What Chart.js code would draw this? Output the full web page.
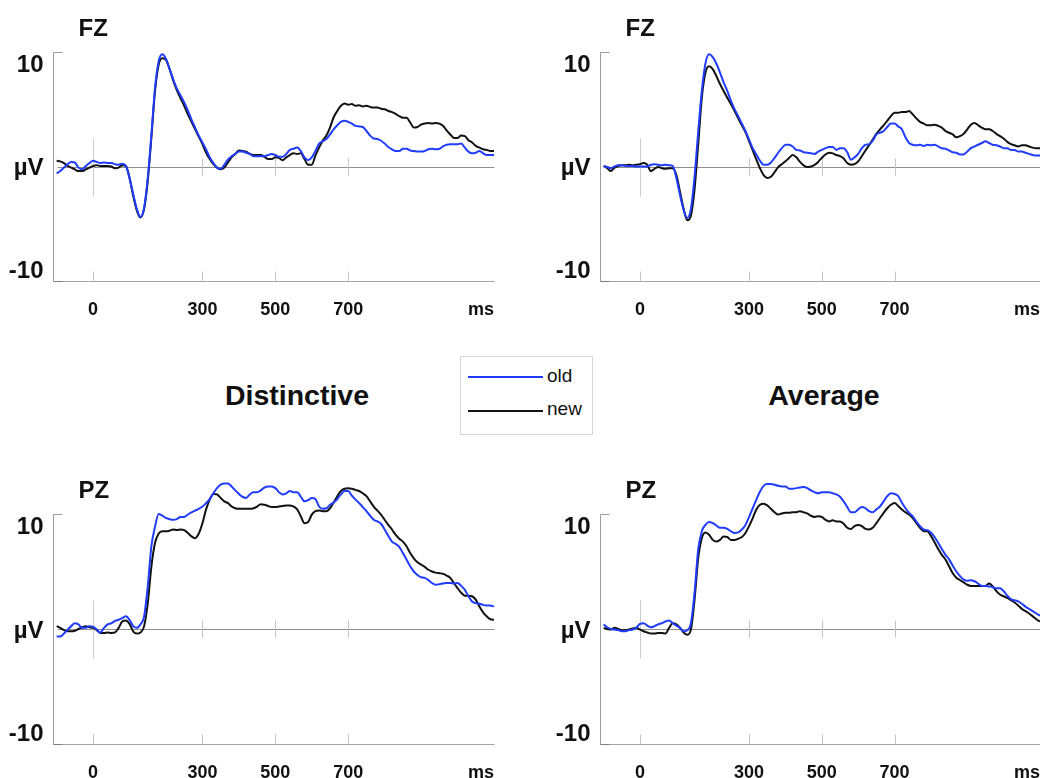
<!DOCTYPE html>
<html>
<head>
<meta charset="utf-8">
<title>ERP old/new</title>
<script src="https://cdn.jsdelivr.net/npm/chart.js@4.4.1/dist/chart.umd.min.js"></script>
<style>
  body { margin: 0; background: #fff; font-family: "Liberation Sans", Arial, sans-serif; color: #111; }
  #page { position: relative; width: 1040px; height: 778px; overflow: hidden; }
  canvas { position: absolute; }
  .title { position: absolute; width: 300px; text-align: center; font-weight: bold; font-size: 28.5px; line-height: 28.5px; }
  #legend { position: absolute; left: 460px; top: 356px; width: 133px; height: 79px; box-sizing: border-box; border: 1px solid #d6d6d6; }
  .key { position: absolute; left: 7px; width: 75px; height: 2px; }
  .keytext { position: absolute; left: 86px; font-size: 19px; line-height: 19px; }
</style>
</head>
<body>
<div id="page">
  <canvas id="distFz" width="520" height="330" style="left:0;top:0"></canvas>
  <canvas id="avgFz" width="520" height="330" style="left:520px;top:0"></canvas>
  <canvas id="distPz" width="520" height="318" style="left:0;top:460px"></canvas>
  <canvas id="avgPz" width="520" height="318" style="left:520px;top:460px"></canvas>

  <div class="title" style="left:147px;top:381px">Distinctive</div>
  <div class="title" style="left:674px;top:381px">Average</div>

  <div id="legend">
    <div class="key" style="top:19px;background:#1f3cff"></div>
    <div class="keytext" style="top:9px">old</div>
    <div class="key" style="top:53px;background:#111"></div>
    <div class="keytext" style="top:42px">new</div>
  </div>
</div>

<script>
// sample times (ms), one value every 10 ms
const times = [
  -100, -90, -80, -70, -60, -50, -40, -30, -20, -10,
  0, 10, 20, 30, 40, 50, 60, 70, 80, 90,
  100, 110, 120, 130, 140, 150, 160, 170, 180, 190,
  200, 210, 220, 230, 240, 250, 260, 270, 280, 290,
  300, 310, 320, 330, 340, 350, 360, 370, 380, 390,
  400, 410, 420, 430, 440, 450, 460, 470, 480, 490,
  500, 510, 520, 530, 540, 550, 560, 570, 580, 590,
  600, 610, 620, 630, 640, 650, 660, 670, 680, 690,
  700, 710, 720, 730, 740, 750, 760, 770, 780, 790,
  800, 810, 820, 830, 840, 850, 860, 870, 880, 890,
  900, 910, 920, 930, 940, 950, 960, 970, 980, 990,
  1000, 1010, 1020, 1030, 1040, 1050, 1060, 1070, 1080, 1090,
  1100
];

// amplitudes in µV
const distinctiveFzOld = [
  -0.6, -0.4, -0.1, 0.2, 0.4, 0.35, -0.1, -0.25, 0.05, 0.3,
  0.5, 0.4, 0.3, 0.35, 0.3, 0.3, 0.2, 0.15, 0.25, 0.05,
  -1.0, -2.4, -3.7, -4.4, -3.6, -1.0, 2.8, 6.9, 9.2, 9.8,
  9.4, 8.5, 7.6, 6.8, 6.2, 5.6, 4.9, 4.1, 3.4, 2.7,
  2.1, 1.5, 0.8, 0.3, -0.1, -0.2, 0.15, 0.6, 0.9, 1.1,
  1.3, 1.3, 1.2, 1.1, 0.9, 0.9, 0.9, 0.9, 1.0, 1.1,
  1.0, 0.85, 0.85, 1.1, 1.45, 1.55, 1.65, 1.35, 0.8, 0.55,
  0.8, 1.35, 2.0, 2.2, 2.4, 2.8, 3.25, 3.6, 3.9, 4.0,
  3.9, 3.75, 3.55, 3.5, 3.45, 3.1, 2.7, 2.45, 2.4, 2.25,
  2.0, 1.7, 1.5, 1.35, 1.35, 1.55, 1.55, 1.4, 1.35, 1.3,
  1.3, 1.35, 1.5, 1.55, 1.5, 1.55, 1.75, 1.9, 1.95, 1.95,
  1.95, 2.0, 1.65, 1.3, 1.15, 1.2, 1.35, 1.15, 1.0, 1.0,
  1.0
];
const distinctiveFzNew = [
  0.5, 0.45, 0.3, 0.05, -0.1, -0.25, -0.4, -0.4, -0.25, -0.1,
  0.05, 0.1, 0.05, 0.05, 0.05, 0, -0.15, -0.1, 0.1, 0.05,
  -1.0, -2.55, -3.85, -4.45, -3.7, -1.25, 2.55, 6.6, 8.9, 9.45,
  9.3, 8.5, 7.5, 6.65, 5.95, 5.3, 4.55, 3.9, 3.25, 2.6,
  1.95, 1.2, 0.65, 0.2, -0.1, -0.25, -0.1, 0.35, 0.8, 1.1,
  1.4, 1.35, 1.3, 1.1, 1.0, 1.0, 1.0, 0.85, 0.65, 0.65,
  0.8, 0.75, 0.55, 0.8, 1.0, 1.15, 1.1, 1.15, 0.65, 0.15,
  0.15, 0.95, 1.65, 2.25, 2.7, 3.4, 4.3, 4.85, 5.3, 5.5,
  5.4, 5.45, 5.3, 5.35, 5.25, 5.3, 5.2, 5.15, 5.15, 5.05,
  5.0, 4.85, 4.75, 4.6, 4.4, 4.25, 4.25, 3.85, 3.4, 3.45,
  3.65, 3.75, 3.8, 3.75, 3.8, 3.75, 3.55, 3.15, 2.8, 2.5,
  2.5, 2.7, 2.65, 2.3, 2.1, 1.8, 1.65, 1.5, 1.45, 1.35,
  1.35
];
const averageFzOld = [
  0.05, -0.05, -0.15, 0, 0.1, 0.1, 0.05, 0.05, 0.05, 0,
  0, 0, 0, 0.15, 0.2, 0.15, 0.1, 0.15, 0.1, 0.05,
  -1.0, -2.5, -3.8, -4.5, -3.7, -0.9, 3.0, 6.6, 9.0, 9.8,
  9.55, 9.0, 8.2, 7.35, 6.6, 5.75, 5.0, 4.4, 3.75, 3.1,
  2.35, 1.6, 1.05, 0.5, 0.15, 0.15, 0.35, 0.75, 1.2, 1.6,
  1.9, 1.9, 1.75, 1.45, 1.4, 1.25, 1.2, 1.15, 1.1, 1.3,
  1.45, 1.6, 1.7, 1.7, 1.45, 1.6, 1.6, 1.25, 0.6, 0.8,
  1.1, 1.6, 1.9, 1.95, 2.25, 2.8, 2.95, 3.1, 3.45, 3.75,
  3.75, 3.5, 3.25, 2.55, 2.05, 1.9, 1.85, 1.9, 1.8, 1.9,
  1.85, 1.9, 1.75, 1.6, 1.55, 1.4, 1.25, 1.2, 1.05, 1.05,
  1.3, 1.6, 1.75, 1.9, 2.05, 2.2, 2.05, 1.9, 1.85, 1.75,
  1.6, 1.6, 1.45, 1.45, 1.3, 1.3, 1.2, 1.1, 1.0, 0.95,
  0.95
];
const averageFzNew = [
  0.05, -0.15, -0.4, -0.1, 0.05, 0.1, 0.1, 0.15, 0.1, 0.15,
  0.2, 0.3, 0.15, -0.4, -0.2, -0.05, -0.15, -0.2, -0.15, -0.15,
  -0.75, -2.2, -3.7, -4.7, -4.3, -2.0, 1.9, 6.0, 8.2, 8.75,
  8.5, 7.9, 7.2, 6.6, 6.0, 5.45, 4.85, 4.2, 3.6, 3.0,
  2.2, 1.4, 0.6, -0.15, -0.75, -1.0, -0.9, -0.5, -0.05, 0.2,
  0.45, 0.75, 1.0, 0.8, 0.4, 0.1, -0.05, 0, 0.15, 0.4,
  0.75, 1.05, 1.2, 1.15, 1.0, 0.9, 0.7, 0.3, 0.15, 0.2,
  0.45, 0.9, 1.4, 1.85, 2.35, 2.85, 3.25, 3.6, 4.0, 4.4,
  4.7, 4.7, 4.75, 4.75, 4.85, 4.55, 4.2, 3.9, 3.75, 3.6,
  3.6, 3.65, 3.55, 3.4, 3.1, 2.95, 2.8, 2.55, 2.65, 2.85,
  3.25, 3.65, 3.8, 3.6, 3.4, 3.25, 3.25, 3.1, 2.85, 2.65,
  2.45, 2.15, 1.95, 1.85, 1.75, 1.85, 1.85, 1.75, 1.65, 1.6,
  1.6
];
const distinctivePzOld = [
  -0.65, -0.65, -0.4, -0.05, 0.25, 0.5, 0.4, 0.1, 0.1, 0.25,
  0.2, -0.05, -0.3, 0.1, 0.4, 0.5, 0.7, 0.8, 0.95, 1.1,
  0.8, 0.25, 0.1, 0.4, 1.1, 3.7, 7.2, 8.9, 10.0, 9.85,
  9.65, 9.55, 9.5, 9.55, 9.75, 9.75, 9.95, 10.15, 10.3, 10.45,
  10.65, 10.95, 11.3, 11.8, 12.25, 12.55, 12.65, 12.65, 12.4, 12.05,
  11.75, 11.5, 11.4, 11.7, 11.9, 11.9, 12.05, 12.3, 12.4, 12.4,
  12.25, 11.9, 11.7, 11.8, 12.0, 11.9, 11.9, 11.5, 11.1, 11.2,
  11.4, 11.3, 10.65, 10.45, 10.5, 10.8, 11.0, 11.3, 11.7, 12.0,
  12.0, 11.6, 11.25, 10.95, 10.6, 10.25, 9.85, 9.5, 9.35, 9.15,
  8.65, 8.1, 7.6, 7.4, 7.15, 6.6, 6.05, 5.45, 5.0, 4.7,
  4.5, 4.45, 4.25, 4.0, 3.85, 3.9, 3.95, 4.0, 4.0, 3.95,
  4.0, 3.75, 3.4, 2.85, 2.4, 2.25, 2.2, 2.1, 2.05, 2.05,
  1.95
];
const distinctivePzNew = [
  0.25, 0.1, -0.1, -0.2, -0.2, -0.15, 0, 0.15, 0.25, 0.15,
  0.1, -0.1, -0.35, -0.35, -0.3, -0.35, -0.3, 0.1, 0.65, 0.75,
  0.45, -0.2, -0.4, -0.3, 0.25, 2.25, 5.45, 7.5, 8.3, 8.5,
  8.5, 8.55, 8.65, 8.6, 8.65, 8.6, 8.35, 8.05, 7.9, 8.3,
  9.2, 10.4, 11.25, 11.75, 11.7, 11.4, 11.1, 10.95, 10.65, 10.5,
  10.45, 10.45, 10.45, 10.45, 10.5, 10.65, 10.85, 10.8, 10.7, 10.6,
  10.6, 10.65, 10.7, 10.75, 10.75, 10.65, 10.4, 9.8, 9.2, 9.3,
  9.95, 10.25, 10.3, 10.25, 10.25, 10.5, 11.0, 11.55, 12.0, 12.2,
  12.25, 12.2, 12.1, 12.0, 11.8, 11.55, 11.1, 10.65, 10.3, 9.95,
  9.5, 9.05, 8.65, 8.2, 7.85, 7.6, 7.2, 6.6, 6.15, 5.8,
  5.6, 5.4, 5.15, 5.0, 4.9, 4.85, 4.8, 4.65, 4.45, 4.0,
  3.55, 3.15, 2.9, 2.9, 2.85, 2.55, 1.95, 1.45, 1.1, 0.85,
  0.8
];
const averagePzOld = [
  0.4, 0.15, 0, -0.05, -0.1, -0.2, -0.2, -0.1, -0.05, 0.1,
  0.45, 0.5, 0.3, 0.15, 0.25, 0.4, 0.5, 0.65, 0.75, 0.5,
  0.3, 0.1, -0.2, -0.1, 0.5, 3.15, 6.9, 8.5, 9.05, 9.3,
  9.2, 9.0, 8.8, 8.8, 8.7, 8.5, 8.35, 8.4, 8.65, 9.05,
  9.75, 10.5, 11.25, 11.95, 12.45, 12.6, 12.6, 12.55, 12.45, 12.4,
  12.4, 12.2, 12.2, 12.25, 12.3, 12.35, 12.25, 12.05, 11.9, 11.8,
  11.9, 11.9, 11.9, 11.8, 11.7, 11.5, 11.1, 10.6, 10.15, 10.15,
  10.4, 10.6, 10.5, 10.25, 10.15, 10.4, 10.65, 11.1, 11.55, 11.8,
  11.75, 11.55, 11.0, 10.5, 10.1, 9.8, 9.35, 8.95, 8.65, 8.6,
  8.4, 8.0, 7.5, 6.95, 6.45, 6.05, 5.5, 5.0, 4.6, 4.3,
  4.2, 4.25, 4.15, 3.95, 3.75, 3.75, 3.7, 3.65, 3.55, 3.55,
  3.3, 2.9, 2.6, 2.5, 2.4, 2.2, 1.95, 1.75, 1.55, 1.35,
  1.15
];
const averagePzNew = [
  0.1, 0, -0.05, 0.1, 0, -0.1, -0.1, -0.05, 0.05, 0.1,
  -0.05, -0.2, -0.3, -0.4, -0.4, -0.35, -0.35, -0.4, 0.1, 0.5,
  0.4, 0.1, -0.3, -0.5, -0.05, 2.55, 6.15, 7.9, 8.4, 8.2,
  7.75, 7.6, 7.75, 8.05, 8.0, 7.75, 7.75, 7.85, 8.0, 8.35,
  8.95, 9.65, 10.4, 10.8, 10.9, 10.75, 10.45, 10.15, 9.95, 10.05,
  10.1, 10.1, 10.15, 10.15, 10.25, 10.15, 10.05, 9.85, 9.75, 9.8,
  9.75, 9.5, 9.35, 9.45, 9.35, 9.35, 9.15, 8.8, 8.7, 8.95,
  9.05, 8.95, 8.7, 8.65, 8.8, 9.2, 9.65, 10.1, 10.5, 10.8,
  10.95, 10.7, 10.4, 10.15, 9.95, 9.65, 9.2, 8.8, 8.5, 8.5,
  8.1, 7.55, 6.95, 6.45, 6.05, 5.45, 4.85, 4.45, 4.25, 4.05,
  3.85, 3.75, 3.75, 3.75, 3.75, 3.75, 3.95, 3.7, 3.3, 3.0,
  2.85, 2.7, 2.5, 2.3, 2.05, 1.75, 1.55, 1.35, 1.1, 0.85,
  0.65
];

// axis furniture
const xTicks = [0, 300, 500, 700];
const xUnit = 'ms';
const yTicks = [10, 0, -10];
const yTickLabels = ['10', 'µV', '-10'];

const OLD_COLOR = '#1f3cff';
const NEW_COLOR = '#111111';
const FONT = '"Liberation Sans", Arial, sans-serif';

// draws the ERP-style axes: baseline with tick marks, left/bottom frame, labels
const erpAxes = {
  id: 'erpAxes',
  beforeDatasetsDraw(chart, args, opts) {
    const { ctx } = chart;
    const xs = chart.scales.x, ys = chart.scales.y;
    const X = v => Math.round(xs.getPixelForValue(v)) + 0.5;
    const Y = v => Math.round(ys.getPixelForValue(v)) + 0.5;
    const left = X(xs.min), right = X(xs.max);
    const top = Y(10), bottom = Y(-10), zero = Y(0);

    const seg = (x1, y1, x2, y2, color) => {
      ctx.strokeStyle = color;
      ctx.beginPath();
      ctx.moveTo(x1, y1);
      ctx.lineTo(x2, y2);
      ctx.stroke();
    };

    ctx.save();
    ctx.lineWidth = 1;

    // frame
    seg(left, top, left, bottom, '#9c9c9c');
    seg(left, bottom, right, bottom, '#a4a4a4');
    seg(left, top, left + 9, top, '#9c9c9c');
    seg(left, bottom, left + 9, bottom, '#7c7c7c');

    // baseline and its tick marks
    seg(X(times[0]), zero, right, zero, '#8e8e8e');
    xTicks.forEach(t => {
      const x = X(t);
      if (t === 0) seg(x, zero - 29, x, zero + 29, '#cdcdcd');
      else seg(x, zero - 9, x, zero + 8, '#c4c4c4');
      seg(x, bottom - 10, x, bottom, '#c4c4c4');
    });

    // labels
    ctx.fillStyle = '#111';
    ctx.font = 'bold 24px ' + FONT;
    ctx.textAlign = 'right';
    ctx.textBaseline = 'alphabetic';
    const yOffsets = [20, 8.5, -3];
    yTicks.forEach((v, i) => {
      ctx.fillText(yTickLabels[i], left - 10, ys.getPixelForValue(v) + yOffsets[i]);
    });

    ctx.textAlign = 'left';
    ctx.fillText(opts.channel, left + 25, ys.getPixelForValue(10) - 16.5);

    ctx.font = 'bold 18px ' + FONT;
    ctx.textAlign = 'center';
    const labelY = ys.getPixelForValue(-10) + 34;
    xTicks.forEach(t => ctx.fillText(String(t), xs.getPixelForValue(t), labelY));
    ctx.textAlign = 'right';
    ctx.fillText(xUnit, xs.getPixelForValue(times[times.length - 1]), labelY);

    ctx.restore();
  }
};

const toPoints = values => times.map((t, i) => ({ x: t, y: values[i] }));

function makePanel(id, channel, oldValues, newValues, padding) {
  const line = (label, values, color) => ({
    label,
    data: toPoints(values),
    borderColor: color,
    borderWidth: 2,
    pointRadius: 0,
    cubicInterpolationMode: 'monotone',
    borderJoinStyle: 'round',
    clip: false
  });

  return new Chart(document.getElementById(id), {
    type: 'line',
    data: {
      datasets: [
        line('old', oldValues, OLD_COLOR),
        line('new', newValues, NEW_COLOR)
      ]
    },
    options: {
      responsive: false,
      animation: false,
      layout: { padding },
      scales: {
        x: { type: 'linear', min: -110, max: 1100, display: false },
        y: { min: -10, max: 10, display: false }
      },
      plugins: {
        legend: { display: false },
        tooltip: { enabled: false },
        erpAxes: { channel }
      }
    },
    plugins: [erpAxes]
  });
}

makePanel('distFz', 'FZ', distinctiveFzOld, distinctiveFzNew, { left: 53, top: 52, right: 26, bottom: 49 });
makePanel('avgFz', 'FZ', averageFzOld, averageFzNew, { left: 80, top: 52, right: 0, bottom: 49 });
makePanel('distPz', 'PZ', distinctivePzOld, distinctivePzNew, { left: 53, top: 54, right: 26, bottom: 34 });
makePanel('avgPz', 'PZ', averagePzOld, averagePzNew, { left: 80, top: 54, right: 0, bottom: 34 });
</script>
</body>
</html>
